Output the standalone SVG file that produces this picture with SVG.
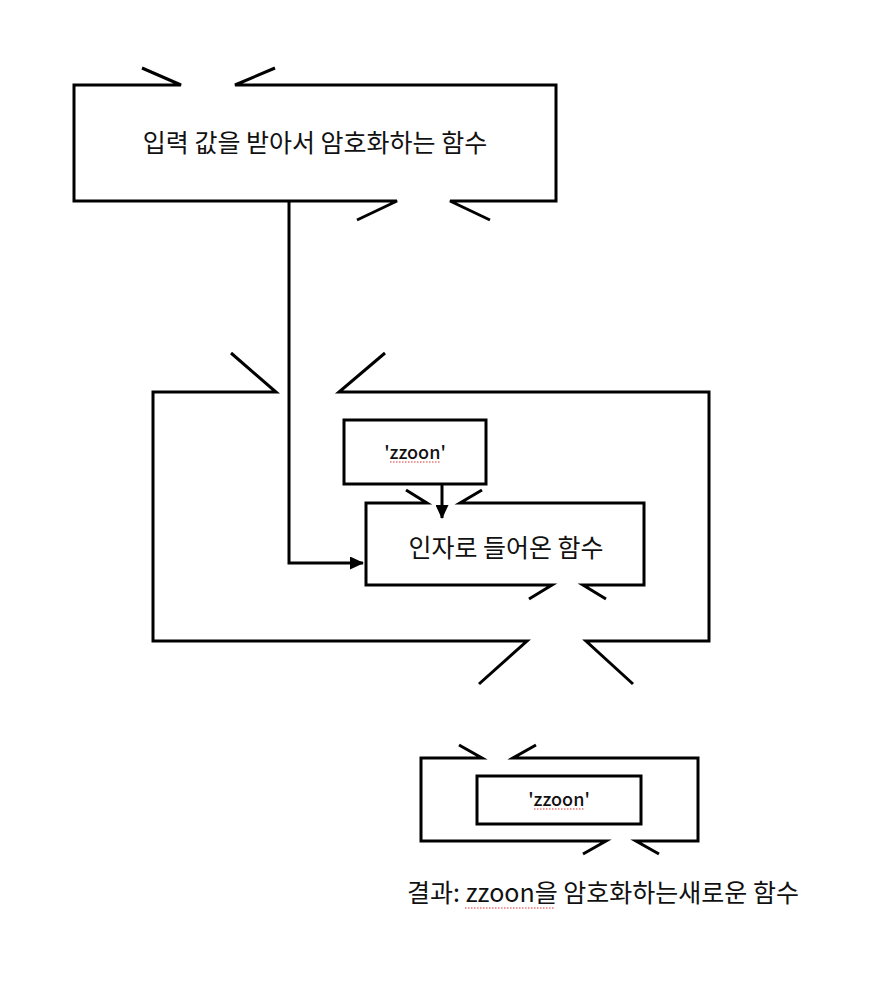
<svg xmlns="http://www.w3.org/2000/svg" width="870" height="992" viewBox="0 0 870 992">
<style>
.ln{fill:none;stroke:#000;stroke-width:3;stroke-linecap:butt;stroke-linejoin:miter}
.t{font-family:"Noto Sans CJK KR","Noto Sans",sans-serif;fill:#111;text-anchor:middle}
.big{font-size:25px}
.sm{font-size:18px;font-weight:500}
.sq{fill:none;stroke:#e03030;stroke-width:1.2;stroke-dasharray:1.5 1.5}
</style>
<defs>
<marker id="ah2" markerWidth="14" markerHeight="13" refX="13" refY="6.5" orient="auto" markerUnits="userSpaceOnUse" viewBox="0 0 14 13">
<path d="M0,0 L14,6.5 L0,13 Z" fill="#000"/>
</marker>
</defs>
<rect width="870" height="992" fill="#fff"/>

<g id="node-encrypt">
<path class="ln" d="M142,68 L181,85 L74,85 L74,201 L397,201 L357,220"/>
<path class="ln" d="M275,68 L235,85 L556,85 L556,201 L450,201 L490,220"/>
<text class="t big" x="315" y="152">입력 값을 받아서 암호화하는 함수</text>
</g>

<g id="node-wrapper">
<path class="ln" d="M231,353 L276,392 L153,392 L153,641 L527,641 L479,684"/>
<path class="ln" d="M385,353 L339,392 L709,392 L709,641 L586,641 L633,684"/>
</g>

<g id="node-arg">
<rect class="ln" x="344" y="420" width="142" height="64"/>
<text class="t sm" x="415" y="459">'zzoon'</text>
<line class="sq" x1="390" y1="462" x2="441" y2="462"/>
</g>

<g id="node-inner">
<path class="ln" d="M406,490 L427,503 L366,503 L366,585 L552,585 L529,599"/>
<path class="ln" d="M482,490 L460,503 L644,503 L644,585 L583,585 L606,599"/>
<text class="t big" x="506" y="557">인자로 들어온 함수</text>
</g>

<g id="node-result">
<path class="ln" d="M459,745 L482,758 L421,758 L421,841 L606,841 L583,854"/>
<path class="ln" d="M536,745 L513,758 L698,758 L698,841 L636,841 L659,854"/>
<rect class="ln" x="477" y="776" width="164" height="48"/>
<text class="t sm" x="559" y="806">'zzoon'</text>
<line class="sq" x1="534" y1="809" x2="585" y2="809"/>
</g>

<g id="label-result">
<text class="t big" x="603" y="902">결과: zzoon을 암호화하는새로운 함수</text>
<line class="sq" x1="465" y1="908" x2="555" y2="908"/>
</g>

<g id="connectors">
<path class="ln" d="M289,201 L289,563 L363,563" marker-end="url(#ah2)"/>
<path class="ln" d="M442,484 L442,518" marker-end="url(#ah2)"/>
</g>
</svg>
